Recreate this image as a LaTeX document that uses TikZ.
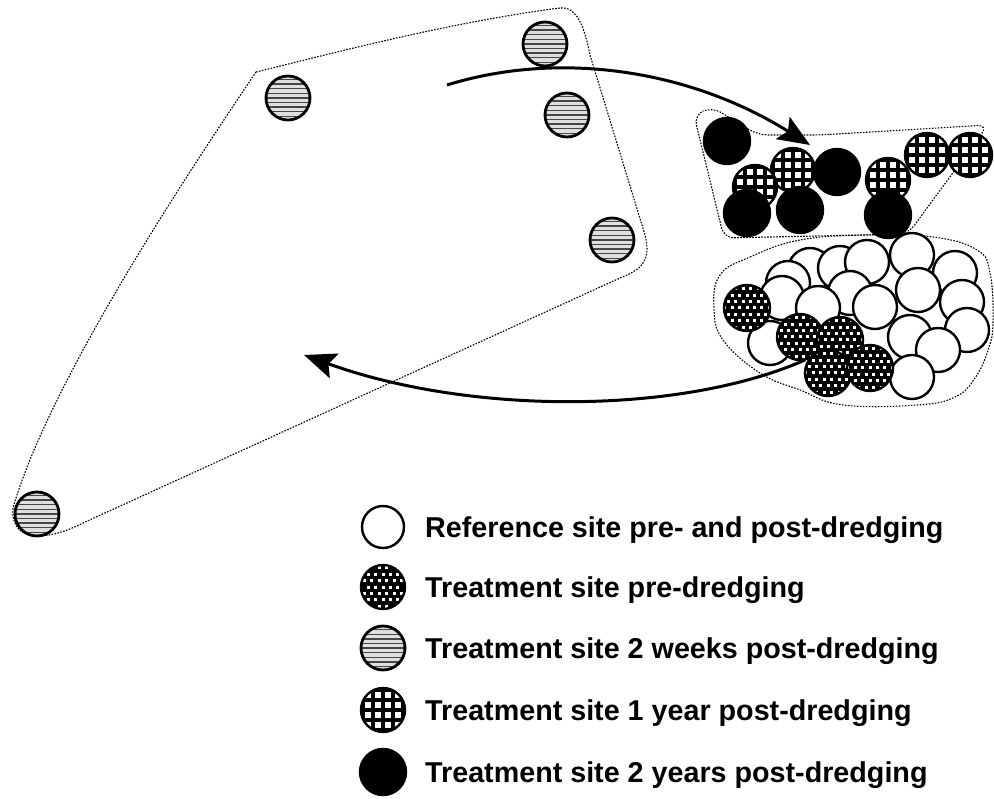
\documentclass[tikz,border=0pt]{standalone}
\usepackage{fontspec}
\setmainfont{Liberation Sans}
\usetikzlibrary{arrows.meta}
\tikzset{
 site/.style={circle, draw=black, line width=2.4pt, minimum size=44pt, inner sep=0pt},
 refsite/.style={site, fill=white},
 presite/.style={site, minimum size=46pt, fill=black,
   path picture={
     \foreach \j in {-2,0,2}{\foreach \i in {-3,...,3}{
       \fill[white] ([shift={(\i*7.4pt-1.5pt,\j*6.4pt-1.5pt)}]path picture bounding box.center) rectangle ++(3pt,3pt);}}
     \foreach \j in {-3,-1,1,3}{\foreach \i in {-3,...,2}{
       \fill[white] ([shift={(\i*7.4pt+3.7pt-1.5pt,\j*6.4pt-1.5pt)}]path picture bounding box.center) rectangle ++(3pt,3pt);}}
   }},
 wkssite/.style={site, line width=2.8pt, fill=gray!25,
   path picture={
     \foreach \j in {-4,...,4}{
       \fill[gray!55!black] ([shift={(-24pt,\j*4.6pt-0.7pt)}]path picture bounding box.center) rectangle ++(48pt,1.4pt);}
   }},
 yronesite/.style={site, fill=black,
   path picture={
     \foreach \j in {-1.5,-0.5,0.5,1.5}{\foreach \i in {-1.5,-0.5,0.5,1.5}{
       \fill[white] ([shift={(\i*10pt-2.8pt,\j*10pt-2.8pt)}]path picture bounding box.center) rectangle ++(5.6pt,5.6pt);}}
   }},
 yrtwosite/.style={site, minimum size=46pt, fill=black},
 hull/.style={draw=black, line width=1.1pt, dash pattern=on 1.6pt off 1.4pt},
 flow/.style={draw=black, line width=3pt, -{Stealth[length=32pt,width=26pt,inset=6pt]}},
 legtext/.style={anchor=base west, inner sep=0pt, font=\fontsize{28.7}{32}\selectfont\bfseries}
}
\begin{document}
\begin{tikzpicture}[x=1pt,y=-1pt]
\useasboundingbox (0,0) rectangle (994,799);

% big hull (2 weeks post-dredging)
\draw[hull] (256,72) .. controls (330,54) and (450,22) .. (560,8)
  .. controls (578,6) and (585,30) .. (590,55) -- (645,235)
  .. controls (652,262) and (640,270) .. (620,278) -- (83,523)
  .. controls (50,540) and (10,545) .. (13,508)
  .. controls (50,380) and (190,170) .. (256,72) -- cycle;

% upper right hull (1 and 2 years)
\draw[hull, rounded corners=10pt] (820,135) -- (988,125) -- (908,234) -- (724,238) -- (694,115) -- (712,107) -- (758,135) -- cycle;

% lower right hull (reference and pre-dredging)
\draw[hull] plot[smooth cycle, tension=0.7] coordinates {(720,275) (750,257) (800,240) (867,235) (933,237) (977,250) (990,273) (993,323) (988,350) (975,378) (955,397) (917,405) (843,405) (800,390) (760,373) (723,340) (714,308)};

% 2 weeks post-dredging sites
\node[wkssite] (wa) at (288,98) {};
\node[wkssite] (wb) at (545,44) {};
\node[wkssite] (wc) at (567,115) {};
\node[wkssite] (wd) at (612,240) {};
\node[wkssite] (we) at (37,514) {};

% 1 year post-dredging sites
\foreach \n/\p in {a/{793,170}, b/{755,187}, c/{888,180}, d/{927,155}, e/{970,155}}
  \node[yronesite] (ya\n) at (\p) {};
% 2 years post-dredging sites
\foreach \n/\p in {a/{727,141}, b/{837,172}, c/{747,213}, d/{800,210}, e/{888,215}}
  \node[yrtwosite] (yb\n) at (\p) {};

% reference sites
\foreach \n/\p in {a/{810,270}, b/{788,283}, c/{782,298}, d/{840,268}, e/{867,262}, f/{912,255}, g/{955,273}, h/{918,290}, i/{962,302}, j/{850,293}, k/{875,307}, l/{818,308}, m/{967,330}, n/{910,337}, o/{938,350}, p/{912,377}, q/{770,343}}
  \node[refsite] (r\n) at (\p) {};
% treatment pre-dredging sites
\foreach \n/\p in {a/{747,308}, b/{800,337}, c/{840,340}, d/{828,373}, e/{870,368}}
  \node[presite] (p\n) at (\p) {};

% arrows
\coordinate (aones) at (447,85);
\coordinate (aonee) at (810,145);
\draw[flow] (aones) .. controls (560,50) and (690,70) .. (aonee);
\coordinate (atwos) at (805,360);
\coordinate (atwoe) at (304,355);
\draw[flow] (atwos) .. controls (680,415) and (470,415) .. (atwoe);

% legend
\node[refsite, minimum size=42pt] (la) at (383,527) {};
\node[presite, minimum size=44pt] (lb) at (383,587) {};
\node[wkssite, minimum size=44pt] (lc) at (383,648) {};
\node[yronesite, minimum size=44pt] (ld) at (383,710) {};
\node[yrtwosite, minimum size=46pt] (le) at (383,772) {};
\node[legtext] (ta) at (425,537) {Reference site pre- and post-dredging};
\node[legtext] (tb) at (425,597) {Treatment site pre-dredging};
\node[legtext] (tc) at (425,658) {Treatment site 2 weeks post-dredging};
\node[legtext] (td) at (425,720) {Treatment site 1 year post-dredging};
\node[legtext] (te) at (425,782) {Treatment site 2 years post-dredging};
\end{tikzpicture}
\end{document}
